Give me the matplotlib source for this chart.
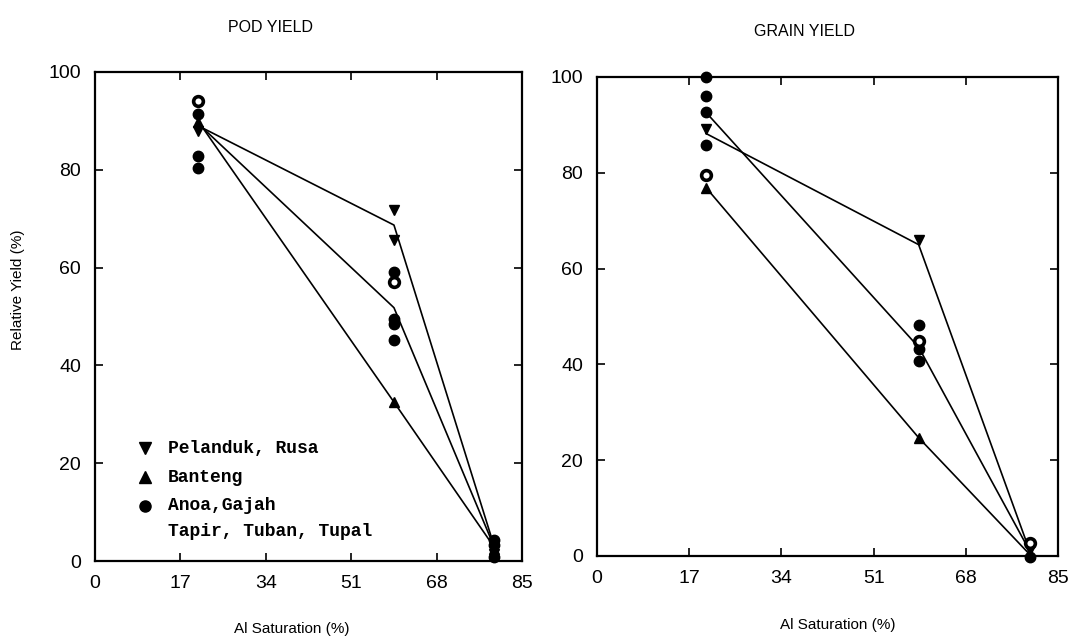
import matplotlib.pyplot as plt

plt.rcParams['font.family'] = ['Liberation Sans', 'DejaVu Sans']

# Al saturation levels (%)
grain_x = [20.1, 59.3, 79.8]

# Pod yield: observed points
pod_pr_x = [20.4, 59.5, 59.5, 79.4]
pod_pr_y = [87.9, 71.7, 65.7, 1.5]
pod_bt_x = [20.4, 59.5, 79.4]
pod_bt_y = [89.8, 32.5, 2.5]
pod_cv_x = [20.4, 20.4, 20.4, 20.4, 59.5, 59.5, 59.5, 59.5, 79.4, 79.4, 79.4]
pod_cv_y = [94.0, 91.5, 82.8, 80.4, 59.2, 49.4, 48.5, 45.1, 4.2, 3.2, 0.8]
pod_ring_x = [20.4, 59.5]
pod_ring_y = [94.0, 57.1]

# Pod yield: fitted curves
pod_fit_x = [21.5, 59.5, 79.0]
pod_fit_pr = [88.5, 68.7, 4.5]
pod_fit_cv = [88.5, 51.8, 4.0]
pod_fit_bt = [88.5, 32.5, 3.5]

# Grain yield: observed points
grain_pr_x = [20.1, 59.3, 79.8]
grain_pr_y = [89.2, 66.0, 1.2]
grain_bt_x = [20.1, 59.3, 79.8]
grain_bt_y = [76.9, 24.7, 0.5]
grain_cv_x = [20.1, 20.1, 20.1, 20.1, 59.3, 59.3, 59.3, 79.8]
grain_cv_y = [100.0, 96.1, 92.6, 85.9, 48.3, 43.2, 40.7, -0.2]
grain_ring_x = [20.1, 59.3, 79.8]
grain_ring_y = [79.6, 44.9, 2.7]

# Grain yield: fitted curves
grain_fit_pr = [88.2, 65.0, 1.0]
grain_fit_cv = [92.6, 43.6, 1.0]
grain_fit_bt = [76.9, 24.7, 0.3]

xticks = [0, 17, 34, 51, 68, 85]
yticks = [0, 20, 40, 60, 80, 100]

legend_labels = ['Pelanduk, Rusa', 'Banteng', 'Anoa,Gajah', 'Tapir, Tuban, Tupal']
legend_marks = ['v', '^', 'o', None]

fig = plt.figure(figsize=(10.74, 6.4), dpi=100)
ax1 = fig.add_axes([0.0885, 0.1234, 0.3976, 0.7641])
ax2 = fig.add_axes([0.5559, 0.1313, 0.4292, 0.7484])

mk = dict(color='black', linestyle='none', clip_on=False, zorder=4)


def style(ax):
    ax.set_xlim(0, 85)
    ax.set_ylim(0, 100)
    ax.set_xticks(xticks)
    ax.set_yticks(yticks)
    ax.tick_params(direction='in', top=True, right=True, length=6, width=1.2,
                   pad=10, labelsize=14)
    for sp in ax.spines.values():
        sp.set_linewidth(1.6)


# pod yield
ax1.plot(pod_fit_x, pod_fit_pr, color='black', lw=1.2)
ax1.plot(pod_fit_x, pod_fit_cv, color='black', lw=1.2)
ax1.plot(pod_fit_x, pod_fit_bt, color='black', lw=1.2)
ax1.plot(pod_pr_x, pod_pr_y, marker='v', ms=6.5, **mk)
ax1.plot(pod_bt_x, pod_bt_y, marker='^', ms=6.5, **mk)
ax1.plot(pod_cv_x, pod_cv_y, marker='o', ms=7.5, **mk)
ax1.plot(pod_ring_x, pod_ring_y, marker='o', ms=7, mfc='white', mew=2.6, **mk)
style(ax1)

# legend drawn as text rows beside markers
leg_y = [448, 477, 506, 532]
for m, lab, yp in zip(legend_marks, legend_labels, leg_y):
    if m is not None:
        fig.lines.append(plt.Line2D([145 / 1074], [1 - yp / 640], marker=m, ms=8,
                                    color='black', transform=fig.transFigure))
    fig.text(168 / 1074, 1 - yp / 640, lab, fontsize=13, va='center',
             family=['Liberation Mono', 'DejaVu Sans Mono'], weight='bold')

# grain yield
ax2.plot(grain_x, grain_fit_pr, color='black', lw=1.2)
ax2.plot(grain_x, grain_fit_cv, color='black', lw=1.2)
ax2.plot(grain_x, grain_fit_bt, color='black', lw=1.2)
ax2.plot(grain_pr_x, grain_pr_y, marker='v', ms=6.5, **mk)
ax2.plot(grain_bt_x, grain_bt_y, marker='^', ms=6.5, **mk)
ax2.plot(grain_cv_x, grain_cv_y, marker='o', ms=7.5, **mk)
ax2.plot(grain_ring_x, grain_ring_y, marker='o', ms=7, mfc='white', mew=2.6, **mk)
style(ax2)

fig.text(270 / 1074, 1 - 28 / 640, 'POD YIELD', fontsize=11.5, ha='center', va='center')
fig.text(805 / 1074, 1 - 32 / 640, 'GRAIN YIELD', fontsize=11.5, ha='center', va='center')
fig.text(18 / 1074, 1 - 290 / 640, 'Relative Yield (%)', fontsize=11,
         rotation=90, ha='center', va='center')
fig.text(292 / 1074, 1 - 629 / 640, 'Al Saturation (%)', fontsize=11,
         ha='center', va='center')
fig.text(838 / 1074, 1 - 625 / 640, 'Al Saturation (%)', fontsize=11,
         ha='center', va='center')

fig.savefig('out.png', dpi=100)
